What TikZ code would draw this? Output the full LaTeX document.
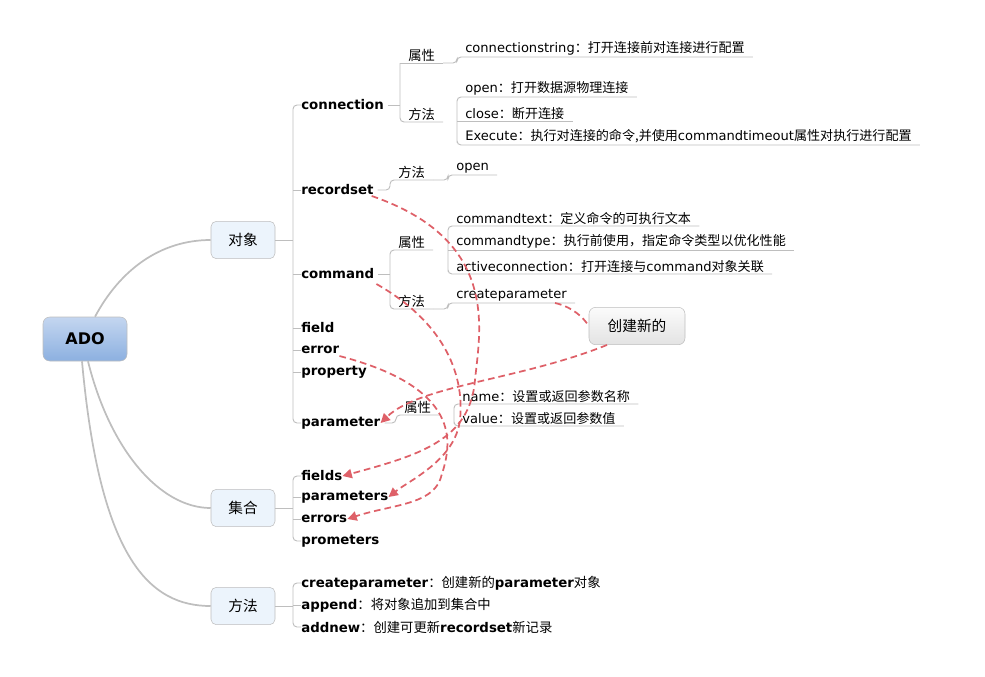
\documentclass[tikz,border=0pt]{standalone}
\usepackage{fontspec}
\setmainfont{DejaVu Sans}
\newfontfamily\cjk{Noto Sans CJK SC}
\usetikzlibrary{arrows.meta}
\usetikzlibrary{positioning}
\newcommand{\zh}[1]{{\cjk #1}}
\definecolor{lnc}{RGB}{190,190,190}
\definecolor{rd}{RGB}{222,96,104}
\definecolor{boxc}{RGB}{236,244,252}
\definecolor{adotop}{RGB}{196,214,240}
\definecolor{adobot}{RGB}{140,176,224}
\tikzset{
  ln/.style={draw=lnc,line width=0.7pt,rounded corners=3pt},
  br/.style={draw=lnc,line width=1.3pt},
  top node/.style={rounded corners=4pt,draw=lnc,fill=boxc,minimum width=48pt,minimum height=28pt,font=\cjk\fontsize{11}{13}\selectfont},
  lone/.style={anchor=west,inner sep=0pt,font=\fontsize{10}{12}\selectfont\bfseries},
  mid/.style={anchor=south west,inner xsep=6pt,inner ysep=1pt,font=\cjk\fontsize{10}{12}\selectfont},
  leaf/.style={anchor=south west,inner xsep=6pt,inner ysep=1pt,font=\fontsize{9.8}{12}\selectfont},
  link/.style={draw=rd,line width=1.3pt,dash pattern=on 5pt off 3pt},
  tip/.style={-{Triangle[length=7pt,width=7pt]}}
}
\begin{document}
\begin{tikzpicture}[x=0.75pt,y=-0.75pt]
\useasboundingbox (0,0) rectangle (985,676);
% root and first level
\node[rounded corners=5pt,draw=lnc,top color=adotop,bottom color=adobot,minimum width=63pt,minimum height=33pt,font=\fontsize{12}{14}\selectfont\bfseries] (ado) at (85,339) {ADO};
\node[top node] (obj) at (243,240) {对象};
\node[top node] (col) at (243,508) {集合};
\node[top node] (mth) at (243,606) {方法};
\node[rounded corners=5pt,draw=lnc,top color=gray!3,bottom color=gray!22,minimum width=72pt,minimum height=28pt,font=\cjk\fontsize{11}{13}\selectfont] (new) at (637,326) {创建新的};
\draw[br] (ado.north)++(10,0) .. controls (120,270) and (160,240) .. (obj.west);
\draw[br] (ado.south)++(3,0) .. controls (110,450) and (160,508) .. (col.west);
\draw[br] (ado.south)++(-3,0) .. controls (100,560) and (150,606) .. (mth.west);
% object branch
\foreach \n/\t/\y in {conn/connection/105,rset/recordset/190,cmd/command/274,fld/field/328,err/error/350,prop/property/372,par/parameter/423}
  \node[lone] (\n) at (301,\y) {\t};
\draw[ln] (obj.east) -- (293,240);
\draw[ln] (301,105) -| (293,423) -- (301,423);
\foreach \n in {rset,cmd,fld,err,prop} \draw[ln] (\n.west) -- ++(-8,0);
% connection
\node[mid] (c1) at (400,63) {属性};
\node[mid] (c2) at (400,122) {方法};
\draw[ln] (conn.east) ++(4,0) -- (400,105);
\draw[ln] (c1.south west) -- (400,122) -- (c2.south east);
\draw[ln] (c1.south west) -- (c1.south east);
\node[leaf] (cs) at (457,57) {connectionstring\zh{：打开连接前对连接进行配置}};
\draw[ln] (c1.south east) -| (cs.south west) -- (cs.south east);
\node[leaf] (co) at (457,97) {open\zh{：打开数据源物理连接}};
\node[leaf] (cc) at (457,121) {close\zh{：断开连接}};
\node[leaf] (ce) at (457,145) {Execute\zh{：执行对连接的命令,并使用}commandtimeout\zh{属性对执行进行配置}};
\draw[ln] (co.south east) -- (co.south west) |- (ce.south west) -- (ce.south east);
\draw[ln] (cc.south west) -- (cc.south east);
% recordset
\node[mid] (r1) at (390,180) {方法};
\draw[ln] (rset.east) ++(4,0) -| (r1.south west) -- (r1.south east);
\node[leaf] (ro) at (448,175) {open};
\draw[ln] (r1.south east) -| (ro.south west) -- (ro.south east);
% command
\node[mid] (m1) at (390,250) {属性};
\node[mid] (m2) at (390,309) {方法};
\draw[ln] (cmd.east) ++(4,0) -- (390,274);
\draw[ln] (m1.south east) -- (m1.south west) |- (m2.south east);
\node[leaf] (ct) at (448,226) {commandtext\zh{：定义命令的可执行文本}};
\node[leaf] (cy) at (448,250) {commandtype\zh{：执行前使用，指定命令类型以优化性能}};
\node[leaf] (ca) at (448,274) {activeconnection\zh{：打开连接与}command\zh{对象关联}};
\draw[ln] (ct.south east) -- (ct.south west) |- (ca.south west) -- (ca.south east);
\draw[ln] (cy.south west) -- (cy.south east);
\node[leaf] (cp) at (448,303) {createparameter};
\draw[ln] (m2.south east) -| (cp.south west) -- (cp.south east);
% parameter
\node[mid] (p1) at (396,415) {属性};
\draw[ln] (par.east) ++(4,0) -| (p1.south west) -- (p1.south east);
\node[leaf] (pn) at (454,404) {name\zh{：设置或返回参数名称}};
\node[leaf] (pv) at (454,426) {value\zh{：设置或返回参数值}};
\draw[ln] (pn.south east) -- (pn.south west) |- (pv.south west) -- (pv.south east);
% collections
\foreach \n/\t/\y in {fs/fields/476,ps/parameters/497,es/errors/519,pm/prometers/541}
  \node[lone] (\n) at (301,\y) {\t};
\draw[ln] (col.east) -- (293,508);
\draw[ln] (301,476) -| (293,541) -- (301,541);
\foreach \n in {ps,es} \draw[ln] (\n.west) -- ++(-8,0);
% methods
\node[lone] (mc) at (301,583) {createparameter\zh{\mdseries：创建新的}parameter\zh{\mdseries 对象}};
\node[lone] (ma) at (301,605) {append\zh{\mdseries：将对象追加到集合中}};
\node[lone] (mn) at (301,627) {addnew\zh{\mdseries：创建可更新}recordset\zh{\mdseries 新记录}};
\draw[ln] (mth.east) -- (293,606);
\draw[ln] (301,583) -| (293,627) -- (301,627);
\draw[ln] (ma.west) -- ++(-8,0);
% relations
\draw[link,tip] (rset.east) ++(-2,6) .. controls (500,240) and (480,330) .. (475,380) .. controls (470,440) and (420,455) .. (fs.east);
\draw[link,tip] (cmd.east) ++(2,10) .. controls (440,320) and (465,370) .. (460,420) .. controls (455,460) and (410,480) .. (ps.east);
\draw[link,tip] (err.east) ++(0,6) .. controls (470,390) and (450,450) .. (440,480) .. controls (430,505) and (390,505) .. (es.east);
\draw[link] (cp.south east) ++(-20,0) .. controls (565,305) and (580,312) .. (new.west);
\draw[link,tip] (new.south) ++(-30,0) .. controls (520,380) and (420,385) .. (par.east);
\end{tikzpicture}
\end{document}
